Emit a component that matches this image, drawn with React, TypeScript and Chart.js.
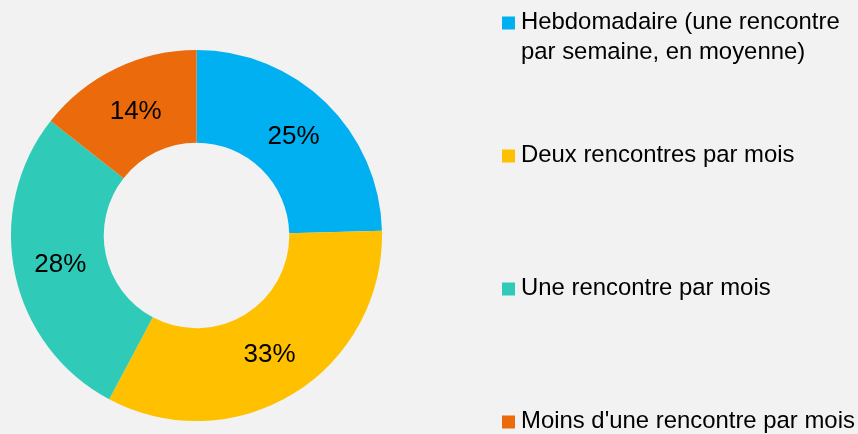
import React, { useEffect, useRef } from "react";
import { Chart, registerables } from "chart.js";

Chart.register(...registerables);

const categories = [
  "Hebdomadaire (une rencontre\npar semaine, en moyenne)",
  "Deux rencontres par mois",
  "Une rencontre par mois",
  "Moins d'une rencontre par mois",
];
const shares = [24.6, 33.2, 27.8, 14.4];
const colors = ["#00b0f0", "#ffc000", "#2fcbb8", "#eb6b0c"];

const FONT = "'Liberation Sans', Arial, sans-serif";

const valueLabels = {
  id: "valueLabels",
  afterDatasetsDraw(chart: any) {
    const ctx = chart.ctx;
    const meta = chart.getDatasetMeta(0);
    const data = chart.data.datasets[0].data as number[];
    ctx.save();
    ctx.font = `26px ${FONT}`;
    ctx.fillStyle = "#000";
    ctx.textAlign = "center";
    ctx.textBaseline = "middle";
    meta.data.forEach((arc: any, i: number) => {
      const p = arc.tooltipPosition();
      ctx.fillText(Math.round(data[i]) + "%", p.x, p.y + 1);
    });
    ctx.restore();
  },
};

const sideLegend = {
  id: "sideLegend",
  afterDraw(chart: any) {
    const ctx = chart.ctx;
    const labels = chart.data.labels as string[];
    const bg = chart.data.datasets[0].backgroundColor as string[];
    ctx.save();
    ctx.font = `23.9px ${FONT}`;
    ctx.textAlign = "left";
    ctx.textBaseline = "alphabetic";
    const firstBaseline = 29;
    const step = 133;
    const boxX = 502;
    const textX = 521;
    labels.forEach((lbl, i) => {
      const base = firstBaseline + i * step;
      ctx.fillStyle = bg[i];
      ctx.fillRect(boxX, base - 12.5, 13, 13);
      ctx.fillStyle = "#000";
      lbl.split("\n").forEach((line, j) => {
        ctx.fillText(line, textX, base + j * 29.5);
      });
    });
    ctx.restore();
  },
};

export default function App() {
  const ref = useRef<HTMLCanvasElement>(null);
  useEffect(() => {
    document.body.style.margin = "0";
    const chart = new Chart(ref.current!, {
      type: "doughnut",
      data: {
        labels: categories,
        datasets: [
          {
            data: shares,
            backgroundColor: colors,
            borderWidth: 0,
          },
        ],
      },
      options: {
        animation: false,
        responsive: false,
        cutout: "50%",
        layout: { padding: { left: 11, right: 476, top: 50, bottom: 13 } },
        plugins: {
          legend: { display: false },
          tooltip: { enabled: false },
        },
      },
      plugins: [valueLabels, sideLegend],
    });
    return () => chart.destroy();
  }, []);
  return (
    <div style={{ width: 858, height: 434, background: "#f2f2f2", position: "relative" }}>
      <canvas ref={ref} width={858} height={434} style={{ display: "block" }} />
    </div>
  );
}
